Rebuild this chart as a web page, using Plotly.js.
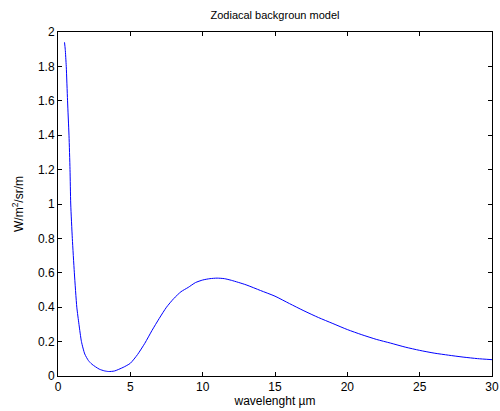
<!DOCTYPE html>
<html>
<head>
<meta charset="utf-8">
<script src="https://cdn.plot.ly/plotly-3.0.1.min.js"></script>
<style>html,body{margin:0;padding:0;background:#fff;}#chart{width:500px;height:411px;}</style>
</head>
<body>
<div id="chart"></div>
<script>
var wavelength = [0.45,0.5,0.57,0.66,0.76,0.83,0.88,0.99,1.13,1.3,1.45,1.62,1.85,2.1,2.35,2.85,3.2,3.5,3.9,4.5,5.0,5.5,6.0,6.5,7.0,7.5,8.0,8.5,9.0,9.5,10.0,10.5,11.0,11.5,12.0,13.0,14.0,15.0,16.0,17.0,18.0,19.0,20.0,21.0,22.0,23.0,24.0,25.0,26.0,27.0,28.0,29.0,30.0];
var radiance = [1.94,1.90,1.80,1.60,1.40,1.20,1.00,0.80,0.60,0.40,0.30,0.20,0.128,0.09,0.068,0.04,0.03,0.026,0.029,0.05,0.074,0.125,0.19,0.265,0.335,0.40,0.45,0.49,0.515,0.543,0.558,0.566,0.569,0.566,0.556,0.53,0.497,0.464,0.421,0.379,0.34,0.305,0.27,0.24,0.213,0.191,0.168,0.149,0.133,0.121,0.11,0.101,0.095];
var xTicks = [0,5,10,15,20,25,30];
var yTicks = [0,0.2,0.4,0.6,0.8,1,1.2,1.4,1.6,1.8,2];

var trace = {
  x: wavelength, y: radiance, type: 'scatter', mode: 'lines',
  line: {color: 'rgb(0,0,255)', width: 1, shape: 'spline', smoothing: 0.6}, hoverinfo: 'none'
};
var axisCommon = {
  showgrid: false, zeroline: false, showline: true, linecolor: '#000', linewidth: 1,
  mirror: 'ticks', ticks: 'inside', ticklen: 4, tickcolor: '#000', tickwidth: 1,
  tickfont: {family: 'Liberation Sans, Arial, sans-serif', size: 12, color: '#000'}
};
var layout = {
  width: 500, height: 411,
  margin: {l: 58, r: 8, t: 32, b: 35},
  paper_bgcolor: '#fff', plot_bgcolor: '#fff',
  showlegend: false,
  title: {text: 'Zodiacal backgroun model', x: 0.55, xanchor: 'center', y: 0.962, yanchor: 'middle',
          font: {family: 'Liberation Sans, Arial, sans-serif', size: 11, color: '#000'}},
  xaxis: Object.assign({}, axisCommon, {
    range: [0, 30], tickvals: xTicks, ticktext: xTicks.map(String), automargin: false,
    title: {text: 'wavelenght µm', standoff: 2, font: {family: 'Liberation Sans, Arial, sans-serif', size: 12, color: '#000'}}
  }),
  yaxis: Object.assign({}, axisCommon, {
    range: [0, 2], tickvals: yTicks, ticktext: yTicks.map(String), automargin: false,
    title: {text: 'W/m<sup>2</sup>/sr/m', standoff: 11, font: {family: 'Liberation Sans, Arial, sans-serif', size: 12, color: '#000'}}
  })
};
Plotly.newPlot('chart', [trace], layout, {displayModeBar: false, staticPlot: true});
</script>
</body>
</html>
